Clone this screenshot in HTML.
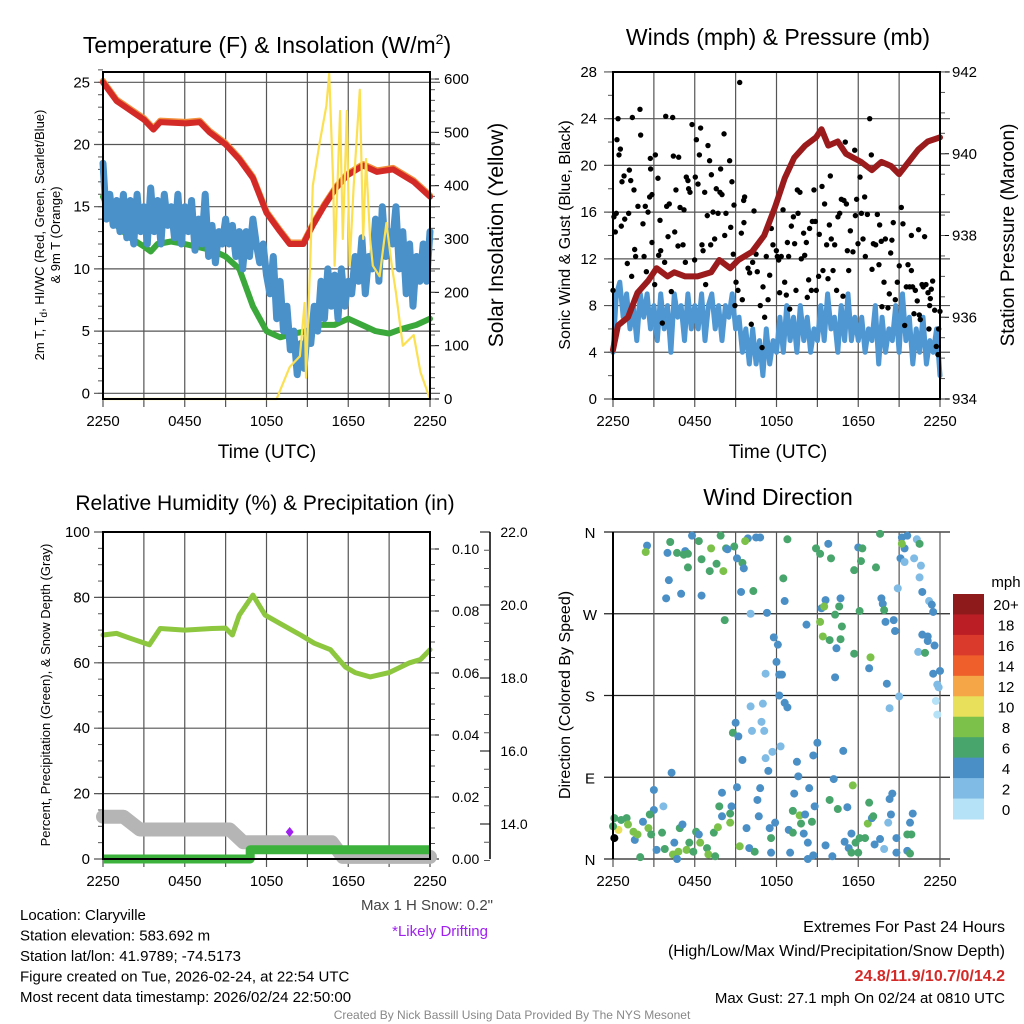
<!DOCTYPE html>
<html><head><meta charset="utf-8"><style>
html,body{margin:0;padding:0;background:#fff;}
svg{display:block;font-family:"Liberation Sans",Arial,sans-serif;}
</style></head><body>
<svg id="c" width="1024" height="1024" viewBox="0 0 1024 1024" xmlns="http://www.w3.org/2000/svg"></svg>
<script>
// ---------- DATA ----------
const tempHour=[0,1,3,3.7,4.2,6.1,7.1,7.8,9,10,11,12,13,13.7,14.7,15.4,16.2,17.1,17.9,19.1,20.1,21.3,22.8,24];
const tempVal=[25,23.5,22,21.2,21.8,21.7,21.8,21,20,18.8,17.3,14.5,13,12,12,13.5,15,16.5,17.5,18.3,17.8,18,17,15.8];
const dewHour=[0,1,2,3,3.5,4,5,6,8,9,10,11,12,13,14,15,16,17,18,19,20,21,22,23,24];
const dewVal=[15.8,13.5,12.5,11.8,11.4,12,12.2,12,11.5,11,10,7,5,4.5,4.8,5,5.5,5.5,6,5.5,5,4.8,5.2,5.5,6];
const chillVal=[18.5,14,16,13.5,15.5,13,16,12.5,15.5,12,16,13,15,
12,16.5,13,15.5,12,16,13.5,15,12.5,16,12,15,
13,15.5,11.5,14,12,16,11,13.5,10.5,13,12,14,
12,13.5,11,13,10,13,11,14,12,10.5,12,9.5,
8,11,6,9,5,7,3.5,5,1.5,4,2,5,
4,7,5,9,6,10,7,9.5,6,10,7,9,
8,11,9,12.5,8,11,10,14,9,15,11,13,
12,15,10,13,8,12,7,11,9,12,9,13];
const solarHour=[0,12.74,13.7,14.45,14.8,14.9,15.2,15.4,15.9,16.4,16.6,16.9,17.0,17.4,17.6,17.9,18.1,18.4,18.85,19.1,19.3,19.6,19.8,20.3,20.8,21.2,21.5,22.0,22.8,23.3,24];
const solarVal=[0,0,60,80,180,40,250,400,480,550,610,400,250,540,300,540,250,400,580,300,450,300,250,230,330,250,200,100,120,50,0];
const tempTicks=[0,5,10,15,20,25];
const solarTicks=[0,100,200,300,400,500,600];
const timeLabels=["2250","0450","1050","1650","2250"];

const windVal=[4,9,10,7,9,6,8,5,9,7,9,6,8,
5,9,6,8,4,9,7,8,5,9,6,8,
6,9,5,8,9,6,8,5,8,7,9,6,
7,4,6,3,6,3,5,2,6,3,5,4,
7,4,8,5,7,4,8,5,7,4,6,5,
8,5,9,6,7,4,8,5,9,5,7,5,
7,4,6,5,8,3,7,4,6,5,8,4,
9,5,7,3,6,4,7,3,5,4,6,2];
const gustHour=[0.0,0.07,0.24,0.17,0.37,0.29,0.54,0.44,0.66,0.81,0.61,0.86,1.05,1.20,1.30,1.15,1.42,1.54,1.37,1.59,1.66,1.83,1.98,2.03,2.28,2.37,2.45,2.57,2.20,2.69,2.74,2.76,2.86,2.86,3.06,3.11,3.30,3.35,3.45,3.50,3.62,3.79,3.87,3.94,4.04,4.13,4.28,4.38,4.43,4.53,4.62,4.77,4.82,4.92,5.14,5.21,5.31,5.38,5.50,5.55,5.65,5.80,5.99,6.04,6.12,6.24,6.34,6.43,6.53,6.61,6.73,6.80,6.92,6.97,7.09,7.17,7.22,7.34,7.46,7.58,7.71,7.85,7.90,8.00,8.15,8.20,8.29,8.56,8.64,8.73,8.83,8.88,8.95,9.03,9.17,9.30,9.42,9.49,9.59,9.66,9.61,9.91,10.03,10.15,10.25,10.35,10.50,10.59,10.64,10.81,10.94,11.01,11.13,11.25,11.38,11.50,11.62,11.74,11.82,11.99,12.06,12.16,12.23,12.35,12.48,12.60,12.72,12.80,12.89,12.97,13.09,13.24,13.33,13.43,13.53,13.58,13.72,13.82,13.99,14.07,14.19,14.26,14.36,14.43,14.56,14.63,14.75,14.85,14.92,15.09,15.14,15.34,15.41,15.53,15.68,15.78,15.88,15.95,16.02,16.15,16.27,16.41,16.51,16.64,16.76,16.88,16.95,17.05,17.13,17.20,17.30,17.42,17.61,17.74,17.79,17.88,17.98,18.13,18.23,18.35,18.47,18.52,18.67,18.84,18.96,19.01,19.11,19.28,19.40,19.52,19.57,19.69,19.74,19.89,19.99,20.18,20.28,20.38,20.47,20.57,20.72,20.87,21.01,21.16,21.28,21.41,21.53,21.65,21.77,21.90,21.99,21.90,22.09,22.19,22.33,22.43,22.48,22.55,22.68,22.77,22.87,22.97,23.12,23.24,23.29,23.19,23.36,23.46,23.61,23.73,23.85,23.90,24.0];
const gustSpeed=[9.3,15.6,15.9,14.3,24,22.2,21.4,20.9,18.6,19.1,14.8,15.4,11.6,19.6,18.7,15.9,24.1,17.9,10.5,12.8,12.2,16.5,24.8,22.6,12.2,16.5,10.9,16.0,15.0,17.3,20.6,19.7,17.5,13.4,9.8,20.9,18.9,12.3,15.3,12.7,6.5,11.7,24.2,16.5,13.9,16.7,9.2,24.1,20.8,14.3,17.9,13.1,20.7,16.4,13.2,16.2,11.7,19.0,18.7,18.0,17.7,23.5,11.9,19.0,22.2,18.4,20.9,23.2,13.2,12.7,17.7,9.8,15.7,21.7,20.4,13.2,19.2,16.0,13.7,18.0,15.9,17.7,19.7,17.5,22.7,14.0,15.9,20.4,14.7,18.6,12.4,16.6,8.0,10.0,9.3,27.1,14.2,8.5,17.0,17.3,15.1,11.2,10.8,6.4,11.7,16.1,12.4,10.9,13.3,8.0,4.4,9.6,7.0,12.2,8.5,10.6,14.6,13.2,16.2,12.7,12.2,11.9,9.1,12.2,16.2,10.0,8.9,13.4,12.2,7.7,14.8,15.6,13.3,9.3,17.9,15.9,17.7,12.0,14.2,12.3,13.4,8.7,10.2,14.6,9.3,15.2,17.9,15.2,9.3,10.5,14.1,18.2,11.0,16.7,13.2,10.3,14.9,19.1,13.7,11.0,13.2,9.3,15.6,15.9,17.1,8.8,17.0,22.0,16.7,12.7,11.0,14.4,12.6,21.3,15.7,17.1,13.3,19.0,15.9,13.7,17.3,12.2,15.8,24.0,20.9,11.1,13.3,13.2,15.8,11.5,14.9,13.5,7.9,10.0,13.7,7.8,9.0,12.5,13.6,15.1,8.5,10.0,11.4,16.4,15.0,6.3,9.6,11.5,9.6,11.0,9.6,14.0,7.3,9.3,8.4,14.5,7.2,6.8,9.8,9.6,13.9,9.8,9.1,8.0,8.6,6.0,9.4,10.1,7.6,4.5,3.8,6.0,7.5];
const presHour=[0,0.37,1.1,1.8,2.6,3.2,4.0,4.5,5.3,6.2,7.2,7.8,8.6,9.2,10.2,11.1,11.9,12.6,13.3,14.1,14.9,15.3,15.8,16.5,17.1,18.2,19.0,19.7,20.4,21.0,21.7,22.4,23.1,24];
const presVal=[935.2,935.8,936.0,936.6,936.9,937.2,937.0,937.1,937.0,937.0,937.1,937.4,937.2,937.4,937.6,938.0,938.7,939.4,939.9,940.2,940.4,940.6,940.2,940.3,940.0,939.8,939.6,939.8,939.7,939.5,939.8,940.1,940.3,940.4];
const windTicks=[0,4,8,12,16,20,24,28];
const presTicks=[934,936,938,940,942];

const rhHour=[0,1,2,3.4,4.2,6,8,9,9.5,10,11,11.9,13,14.5,15.5,16.7,17.8,18.5,19.6,21,22.5,23.3,24];
const rhVal=[68.5,69,67.5,65.5,70.5,70,70.5,70.6,68.5,74.6,80.7,74.6,72,68.5,66,64,58.7,57,55.7,57,60,61,64];
const precipHour=[0,10.8,10.8,24];
const precipVal=[0,0,0.003,0.003];
const snowHour=[0,1.5,2.7,9.3,10.3,16.8,17.6,24];
const snowVal=[14.2,14.2,13.85,13.85,13.5,13.5,13.1,13.1];
const rhTicks=[0,20,40,60,80,100];
const precipTicks=["0.00","0.02","0.04","0.06","0.08","0.10"];
const snowTicks=["14.0","16.0","18.0","20.0","22.0"];

const windHour=[2.5,2.4,4.0,4.2,4.7,5.3,5.2,5.5,5.5,5.8,6.3,6.5,4.1,3.9,5.0,6.5,7.2,7.9,8.3,8.9,8.4,7.6,7.1,8.1,9.1,9.5,9.6,9.9,9.7,10.5,10.8,12.8,9.4,10.3,12.5,12.6,11.3,10.1,8.2,14.9,15.2,15.8,16.0,18.0,18.3,18.2,17.7,19.3,19.6,21.2,21.6,21.4,21.1,21.4,22.3,22.5,22.1,22.6,22.5,20.9,22.7,23.2,23.4,23.5,21.2,15.6,15.3,15.5,16.7,16.6,16.3,18.1,19.7,19.8,19.9,15.2,15.4,15.9,16.7,16.4,16.8,17.7,18.9,14.2,20.0,20.6,20.7,22.7,23.1,23.1,23.6,22.4,22.9,18.8,20.1,16.3,23.5,24.0,23.8,23.9,21.0,20.3,23.7,23.8,11.8,12.1,12.0,11.2,12.2,12.4,12.2,12.6,12.8,10.1,11.0,9.0,8.8,9.2,10.2,10.9,11.1,12.3,11.7,11.2,9.5,11.4,15.0,14.7,16.9,13.5,13.6,4.3,3.0,3.7,3.0,2.7,2.2,1.6,2.0,0.1,0.4,0.6,1.0,1.1,1.5,1.8,2.6,2.8,3.2,3.6,3.8,4.5,4.4,4.8,4.7,4.9,5.1,5.4,5.6,5.9,6.1,6.3,6.4,6.9,7.0,7.5,7.4,7.7,7.8,8.0,8.0,8.6,8.7,8.6,9.1,9.3,9.8,10.0,10.4,10.6,10.7,10.8,11.5,11.6,11.9,11.6,12.9,13.0,13.2,13.3,13.2,13.7,13.8,14.0,14.1,14.3,14.3,14.4,14.6,14.7,14.8,15.9,15.6,16.1,16.2,16.5,17.2,17.5,17.6,17.0,17.3,17.5,17.8,18.0,18.1,18.5,18.8,18.7,19.0,19.1,19.2,19.6,19.9,20.2,20.3,20.5,20.4,20.8,20.8,21.6,21.8,21.6,21.9,21.8,22.0,0.0,0.1];
const windDir=[345,338,337,349,337,339,335,336,321,356,350,330,307,287,292,290,342,356,342,344,341,325,317,317,331,326,320,353,350,354,354,352,294,295,309,284,271,270,263,342,336,347,331,343,342,328,318,321,358,354,356,342,331,327,352,347,331,323,310,298,294,284,280,272,347,285,276,278,287,278,269,273,287,281,274,261,245,241,242,232,256,226,222,258,261,263,251,247,245,240,235,228,227,210,193,200,204,207,192,189,179,166,174,159,244,236,217,204,203,203,180,172,167,168,171,150,139,135,141,151,141,124,118,111,109,97,128,114,119,107,91,95,76,58,54,49,41,21,2,45,32,43,45,38,30,27,34,27,10,29,11,18,5,8,0,34,38,10,18,8,30,27,18,12,5,3,29,35,58,73,47,50,58,40,79,14,34,12,8,65,47,78,34,23,40,7,32,7,29,72,53,48,39,28,49,18,0,78,41,4,58,65,15,3,88,55,57,28,81,19,12,7,18,7,23,23,62,39,45,47,16,22,11,40,66,72,49,23,7,9,6,27,27,40,50,36,23];
const windSpeed=[4,8,4,6,6,4,6,6,6,4,6,6,4,4,4,4,8,6,6,6,4,6,6,8,4,6,4,4,8,4,4,6,4,6,6,4,4,2,6,6,6,4,6,4,6,6,6,6,6,4,4,4,4,2,2,6,2,2,2,2,4,2,4,4,8,4,4,8,4,6,6,6,4,4,6,8,8,6,6,4,6,6,8,4,4,4,4,4,4,4,4,2,6,4,4,4,4,4,2,2,2,2,0,0,4,4,4,2,4,4,4,4,4,2,2,4,6,4,2,2,2,2,2,2,4,4,4,4,4,4,4,4,4,2,4,6,4,4,6,6,10,6,6,8,8,8,8,6,4,6,6,4,8,8,4,6,4,8,6,6,6,4,8,6,8,6,6,8,6,4,4,6,4,8,4,8,4,4,6,4,4,4,4,6,4,4,4,4,6,4,6,8,6,4,4,4,4,4,6,4,4,6,4,4,4,6,4,4,8,4,4,6,6,6,6,6,6,8,4,6,4,4,2,2,4,4,4,4,4,4,6,6,6,4,4,6];
const dirTicks=[0,90,180,270,360];
const dirLabels=["N","E","S","W","N"];
const cbarLabels=["20+","18","16","14","12","10","8","6","4","2","0"];
const cbarColors=["#8e1a1c","#bb1e25","#da3a2c","#ee5f2c","#f5a647","#e8e05a","#7cc24a","#48a56c","#4a8fc6","#7fbbe4","#b5e2f7"];

// ---------- DRAW ----------
const S=document.getElementById('c');
const NS="http://www.w3.org/2000/svg";
function el(t,a,p){const e=document.createElementNS(NS,t);for(const k in a)e.setAttribute(k,a[k]);(p||S).appendChild(e);return e;}
function txt(x,y,s,o){o=o||{};const e=el('text',{x:x,y:y,'font-size':o.size||15,'text-anchor':o.anchor||'middle',fill:o.fill||'#000'});if(o.weight)e.setAttribute('font-weight',o.weight);if(o.rot!==undefined)e.setAttribute('transform','rotate('+o.rot+' '+x+' '+y+')');e.textContent=s;return e;}
function line(x1,y1,x2,y2,c,w,p){return el('line',{x1:x1,y1:y1,x2:x2,y2:y2,stroke:c||'#000','stroke-width':w||1},p);}
function poly(xs,ys,c,w,p){let d='';for(let i=0;i<xs.length;i++)d+=(i?'L':'M')+xs[i].toFixed(1)+' '+ys[i].toFixed(1);return el('path',{d:d,fill:'none',stroke:c,'stroke-width':w,'stroke-linejoin':'round','stroke-linecap':'round'},p);}
function grp(name){const g=el('g',{});return g;}

// ===== Panel 1: Temperature =====
(function(){
  const g=grp('temperature-panel');S.appendChild(g);
  const x0=103,x1=430,yt=72,yb=399;
  const xs=h=>x0+h*13.625, yT=v=>393.3-v*12.44, yS=v=>399-v*0.5333;
  for(const v of tempTicks){line(x0-9,yT(v),x1+10,yT(v),'#555',1.2,g);const t=txt(x0-13,yT(v)+5,String(v),{anchor:'end'});g.appendChild(t);}
  for(let v=0;v<=26;v++)line(x0-5,yT(v),x0,yT(v),'#555',1,g);
  for(const v of solarTicks){line(x1,yS(v),x1+9,yS(v),'#000',1,g);const t=txt(x1+14,yS(v)+5,String(v),{anchor:'start'});g.appendChild(t);}
  for(let v=0;v<=600;v+=20)line(x1,yS(v),x1+5,yS(v),'#555',1,g);
  for(let h=0;h<=24;h+=3){line(xs(h),yt,xs(h),yb+8,'#555',1.2,g);}
  for(let i=0;i<timeLabels.length;i++){const t=txt(xs(i*6),yb+27,timeLabels[i]);g.appendChild(t);}
  const cx=[];const cy=[];for(let i=0;i<chillVal.length;i++){cx.push(xs(i*0.25));cy.push(yT(chillVal[i]));}
  const dg=poly(dewHour.map(xs),dewVal.map(yT),'#3aa83a',6,g);
  const bl=poly(cx,cy,'#4a90c9',7,g);
  const og=poly(tempHour.map(xs),tempVal.map(v=>yT(v)-1.5),'#f0903c',6,g);
  const rd=poly(tempHour.map(xs),tempVal.map(yT),'#d42a27',6,g);
  const yl=poly(solarHour.map(xs),solarVal.map(yS),'#fbe052',2.2,g);
  el('rect',{x:x0,y:yt,width:x1-x0,height:yb-yt,fill:'none',stroke:'#000','stroke-width':2},g);
  let t=txt(267,53,'Temperature (F) & Insolation (W/m',{size:23});
  const sp=el('tspan',{dy:-9,'font-size':14},t);sp.textContent='2';const sp2=el('tspan',{dy:9},t);sp2.textContent=')';
  t=txt(267,458,'Time (UTC)',{size:19});
  t=txt(44,235,'2m T, T',{size:13,rot:-90});
  const s1=el('tspan',{dy:3,'font-size':10},t);s1.textContent='d';const s2=el('tspan',{dy:-3},t);s2.textContent=', HI/WC (Red, Green, Scarlet/Blue)';
  t=txt(60,235,'& 9m T (Orange)',{size:13,rot:-90});
  t=txt(503,235,'Solar Insolation (Yellow)',{size:21,rot:-90});
})();

// ===== Panel 2: Winds =====
(function(){
  const g=grp('winds-panel');S.appendChild(g);
  const x0=613,x1=940,yt=72,yb=399;
  const xs=h=>x0+h*13.625, yW=v=>399-v*11.68, yP=p=>399-(p-934)*40.875;
  for(const v of windTicks){line(x0-9,yW(v),x1+10,yW(v),'#555',1.2,g);const t=txt(x0-16,yW(v)+5,String(v),{anchor:'end'});g.appendChild(t);}
  for(let v=0;v<=28;v+=2)line(x0-5,yW(v),x0,yW(v),'#555',1,g);
  for(const p of presTicks){line(x1,yP(p),x1+9,yP(p),'#000',1,g);const t=txt(x1+12,yP(p)+5,String(p),{anchor:'start'});g.appendChild(t);}
  for(let p=934;p<=942;p+=0.5)line(x1,yP(p),x1+5,yP(p),'#555',1,g);
  for(let h=0;h<=24;h+=3){line(xs(h),yt,xs(h),yb+8,'#555',1.2,g);}
  for(let i=0;i<timeLabels.length;i++){const t=txt(xs(i*6),yb+27,timeLabels[i]);g.appendChild(t);}
  const cx=[],cy=[];for(let i=0;i<windVal.length;i++){cx.push(xs(i*0.25));cy.push(yW(windVal[i]));}
  const bl=poly(cx,cy,'#4f97d2',5,g);
  for(let i=0;i<gustHour.length;i++){const c=el('circle',{cx:xs(gustHour[i]),cy:yW(gustSpeed[i]),r:2.7,fill:'#000'},g);
    
    }
  const mr=poly(presHour.map(xs),presVal.map(yP),'#9b1a1c',6,g);
  el('rect',{x:x0,y:yt,width:x1-x0,height:yb-yt,fill:'none',stroke:'#000','stroke-width':2},g);
  let t=txt(778,45,'Winds (mph) & Pressure (mb)',{size:23});
  t=txt(778,458,'Time (UTC)',{size:19});
  t=txt(570,235,'Sonic Wind & Gust (Blue, Black)',{size:16,rot:-90});
  t=txt(1014,235,'Station Pressure (Maroon)',{size:19,rot:-90});
})();

// ===== Panel 3: RH =====
(function(){
  const g=grp('humidity-panel');S.appendChild(g);
  const x0=103,x1=430,yt=532,yb=859;
  const xs=h=>x0+h*13.625, yR=v=>859-v*3.27, yPr=v=>859-v*3100, ySn=v=>824-(v-14)*36.5;
  for(const v of rhTicks){line(x0-9,yR(v),x1,yR(v),'#555',1.2,g);const t=txt(x0-13,yR(v)+5,String(v),{anchor:'end'});g.appendChild(t);}
  for(let v=0;v<=100;v+=5)line(x0-5,yR(v),x0,yR(v),'#555',1,g);
  for(let i=0;i<precipTicks.length;i++){const y=yPr(i*0.02);line(x1,y,x1+9,y,'#000',1,g);const t=txt(x1+22,y+5,precipTicks[i],{anchor:'start',size:14});g.appendChild(t);}
  for(let v=0;v<=0.105;v+=0.005)line(x1,yPr(v),x1+5,yPr(v),'#555',1,g);
  line(490,532,490,859,'#000',1.5,g);
  for(let v=13;v<=22;v+=0.5)line(484,ySn(v),490,ySn(v),'#555',1,g);
  for(let i=0;i<snowTicks.length;i++){const y=ySn(14+i*2);line(480,y,490,y,'#000',1,g);const t=txt(514,y+5,snowTicks[i],{size:14});g.appendChild(t);}
  for(let h=0;h<=24;h+=3){line(xs(h),yt,xs(h),yb+8,'#555',1.2,g);}
  for(let i=0;i<timeLabels.length;i++){const t=txt(xs(i*6),yb+27,timeLabels[i]);g.appendChild(t);}
  const sn=poly(snowHour.map(xs),snowVal.map(ySn),'#b5b5b5',14,g);
  const pr=poly(precipHour.map(xs),precipVal.map(yPr),'#3db33d',9,g);pr.setAttribute('stroke-linecap','butt');
  const rh=poly(rhHour.map(xs),rhVal.map(yR),'#8dc63f',5,g);
  const dm=el('path',{d:'M'+xs(13.7)+' 827 l4 5 l-4 5 l-4 -5 z',fill:'#a020f0'},g);
  el('rect',{x:x0,y:yt,width:x1-x0,height:yb-yt,fill:'none',stroke:'#000','stroke-width':2},g);
  let t=txt(265,510,'Relative Humidity (%) & Precipitation (in)',{size:21});
  t=txt(50,695,'Percent, Precipitation (Green), & Snow Depth (Gray)',{size:13,rot:-90});
})();

// ===== Panel 4: Wind direction =====
(function(){
  const g=grp('wind-direction-panel');S.appendChild(g);
  const x0=613,x1=940,yt=532,yb=859;
  const xs=h=>x0+h*13.625, yD=d=>859-d*0.9083;
  for(let i=0;i<dirTicks.length;i++){const y=yD(dirTicks[i]);line(x0-9,y,x1+10,y,'#222',1.2,g);const t=txt(x0-23,y+6,dirLabels[i],{size:15});g.appendChild(t);}
  for(let h=0;h<=24;h+=3){line(xs(h),yt,xs(h),yb+8,'#555',1.2,g);}
  for(let i=0;i<timeLabels.length;i++){const t=txt(xs(i*6),yb+27,timeLabels[i]);g.appendChild(t);}
  for(let i=0;i<windHour.length;i++){const k=Math.max(0,10-Math.min(10,Math.round(windSpeed[i]/2)));
    const c=el('circle',{cx:xs(windHour[i]),cy:yD(windDir[i]),r:4,fill:cbarColors[k]},g);
    
    }
  line(x0,yt,x0,yb,'#000',2,g);
  let t=txt(778,505,'Wind Direction',{size:23});
  t=txt(570,695,'Direction (Colored By Speed)',{size:16,rot:-90});
  const cb=grp('speed-colorbar');g.appendChild(cb);
  const bh=225/11;
  for(let i=0;i<11;i++){el('rect',{x:953,y:594+i*bh,width:31,height:bh+0.5,fill:cbarColors[i]},cb);const l=txt(1006,594+i*bh+bh/2+6,cbarLabels[i],{size:15});cb.appendChild(l);}
  t=txt(1006,587,'mph',{size:15});cb.appendChild(t);
})();

// ===== Footer text =====
(function(){
  const g=grp('station-info');S.appendChild(g);
  const lines=["Location: Claryville","Station elevation: 583.692 m","Station lat/lon: 41.9789; -74.5173","Figure created on Tue, 2026-02-24, at 22:54 UTC","Most recent data timestamp: 2026/02/24 22:50:00"];
  lines.forEach((s,i)=>{const t=txt(20,920+i*20.5,s,{anchor:'start',size:15});g.appendChild(t);});
  let t=txt(493,910,'Max 1 H Snow: 0.2"',{anchor:'end',size:15,fill:'#444'});
  t=txt(488,936,'*Likely Drifting',{anchor:'end',size:15,fill:'#a020f0'});
  t=txt(1005,932,'Extremes For Past 24 Hours',{anchor:'end',size:16});
  t=txt(1005,956,'(High/Low/Max Wind/Precipitation/Snow Depth)',{anchor:'end',size:16});
  t=txt(1005,981,'24.8/11.9/10.7/0/14.2',{anchor:'end',size:16,fill:'#d42a27',weight:'bold'});
  t=txt(1005,1003,'Max Gust: 27.1 mph On 02/24 at 0810 UTC',{anchor:'end',size:15});
  t=txt(512,1019,'Created By Nick Bassill Using Data Provided By The NYS Mesonet',{size:12,fill:'#888'});
})();
</script>
</body></html>
